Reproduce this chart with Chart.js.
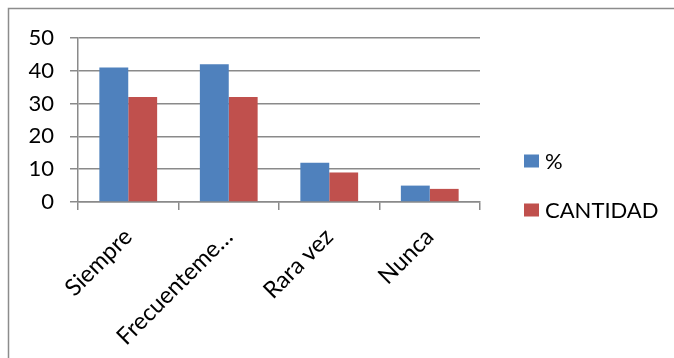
<!DOCTYPE html>
<html>
<head>
<meta charset="utf-8">
<script src="https://cdn.jsdelivr.net/npm/chart.js@4/dist/chart.umd.min.js"></script>
<style>
  html, body { margin: 0; padding: 0; background: #ffffff; }
  #wrap { width: 674px; height: 358px; position: relative; }
</style>
</head>
<body>
<div id="wrap"><canvas id="c" width="674" height="358"></canvas></div>
<script>
const categories = ['Siempre', 'Frecuenteme…', 'Rara vez', 'Nunca'];
const seriesNames = ['%', 'CANTIDAD'];
const percentValues = [41, 42, 12, 5];
const countValues = [32, 32, 9, 4];
const yTicks = [0, 10, 20, 30, 40, 50];

const BLUE = '#4F81BD';
const RED = '#C0504D';
const GRID = '#8a8a8a';
const FONT = 'Lato, "Open Sans", sans-serif';

// Frame around the whole chart and a legend at the right
const framePlugin = {
  id: 'frame',
  beforeDraw(chart) {
    const ctx = chart.ctx;
    ctx.save();
    ctx.strokeStyle = '#8c8c8c';
    ctx.lineWidth = 1.5;
    ctx.beginPath();
    ctx.moveTo(8.5, chart.height);
    ctx.lineTo(8.5, 8.5);
    ctx.lineTo(chart.width, 8.5);
    ctx.stroke();
    ctx.restore();
  }
};

const legendPlugin = {
  id: 'sideLegend',
  afterDraw(chart) {
    const ctx = chart.ctx;
    const x = 524, rowsY = [161, 210];
    ctx.save();
    ctx.font = '22px ' + FONT;
    ctx.textBaseline = 'middle';
    ctx.textAlign = 'left';
    chart.data.datasets.forEach((ds, i) => {
      const cy = rowsY[i];
      ctx.fillStyle = ds.backgroundColor;
      ctx.fillRect(x, cy - 6.5, 15, 13);
      ctx.fillStyle = '#000000';
      ctx.fillText(ds.label, x + 21, cy + 1);
    });
    ctx.restore();
  }
};

new Chart(document.getElementById('c'), {
  type: 'bar',
  data: {
    labels: categories,
    datasets: [
      { label: seriesNames[0], data: percentValues, backgroundColor: BLUE },
      { label: seriesNames[1], data: countValues, backgroundColor: RED }
    ]
  },
  options: {
    responsive: false,
    animation: false,
    devicePixelRatio: 1,
    layout: { padding: { top: 38, right: 194, left: 0, bottom: 0 } },
    datasets: { bar: { categoryPercentage: 0.575, barPercentage: 1.0 } },
    plugins: {
      legend: { display: false },
      tooltip: { enabled: false }
    },
    scales: {
      x: {
        afterFit(scale) { scale.height = 156; },
        grid: {
          offset: true,
          drawOnChartArea: false,
          drawTicks: true,
          tickLength: 8,
          color: GRID,
          lineWidth: 1.5
        },
        border: { display: true, color: GRID, width: 1.5 },
        ticks: {
          color: '#000000',
          font: { family: FONT, size: 23.5 },
          minRotation: 45,
          maxRotation: 45,
          autoSkip: false,
          padding: 13
        }
      },
      y: {
        min: 0,
        max: 50,
        afterFit(scale) { scale.width = 78; },
        afterBuildTicks(scale) { scale.ticks = yTicks.map(v => ({ value: v })); },
        grid: {
          color: GRID,
          lineWidth: 1.5,
          drawTicks: true,
          tickLength: 8
        },
        border: { display: true, color: GRID, width: 1.5 },
        ticks: {
          color: '#000000',
          font: { family: FONT, size: 22 },
          padding: 16
        }
      }
    }
  },
  plugins: [framePlugin, legendPlugin]
});
</script>
</body>
</html>
